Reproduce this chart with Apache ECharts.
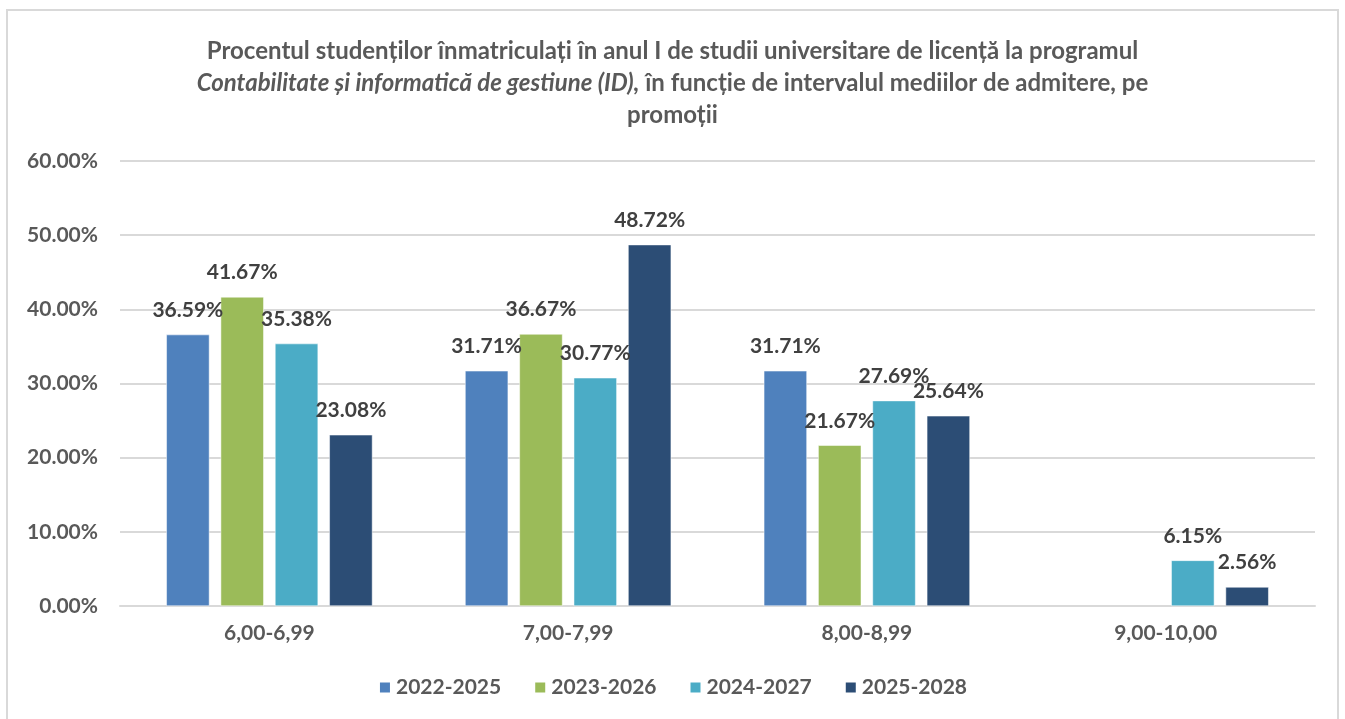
<!DOCTYPE html>
<html>
<head>
<meta charset="utf-8">
<script src="https://cdn.jsdelivr.net/npm/echarts@6/dist/echarts.min.js"></script>
<style>
  html, body { margin: 0; padding: 0; background: #fff; }
  #main { width: 1345px; height: 719px; }
</style>
</head>
<body>
<div id="main"></div>
<script>
var categories = ['6,00-6,99', '7,00-7,99', '8,00-8,99', '9,00-10,00'];
var seriesNames = ['2022-2025', '2023-2026', '2024-2027', '2025-2028'];
var s2022 = [36.59, 31.71, 31.71, null];
var s2023 = [41.67, 36.67, 21.67, null];
var s2024 = [35.38, 30.77, 27.69, 6.15];
var s2025 = [23.08, 48.72, 25.64, 2.56];
var yTicks = [0, 10, 20, 30, 40, 50, 60];
var colors = ['#4F81BD', '#9BBB59', '#4BACC6', '#2C4D75'];

var fontFam = 'Lato, "Open Sans", sans-serif';

function setChart(){
    var chartDom = document.getElementById('main');
    var myChart = echarts.init(chartDom);
    var values = [s2022, s2023, s2024, s2025];
    var series = seriesNames.map(function(name, i){
        return {
            name: name,
            type: 'bar',
            data: values[i],
            barGap: '26%',
            barCategoryGap: '31%',
            itemStyle: {color: colors[i], borderColor: '#fff', borderWidth: 0.5},
            label: {
                show: true,
                position: 'top',
                distance: 14,
                formatter: function(p){ return p.value == null ? '' : p.value.toFixed(2) + '%'; },
                color: '#404040',
                fontFamily: fontFam,
                fontWeight: 'bold',
                fontSize: 21
            }
        };
    });
    var titleStyle = {color: '#595959', fontFamily: fontFam, fontWeight: 'bold', fontSize: 24};
    var option = {
        animation: false,
        color: colors,
        title: [
            {
                text: 'Procentul studenților înmatriculați în anul I de studii universitare de licență la programul',
                left: 'center', top: 34,
                textStyle: titleStyle
            },
            {
                text: '{i|Contabilitate și informatică de gestiune (ID),} în funcție de intervalul mediilor de admitere, pe',
                left: 'center', top: 66,
                textStyle: {
                    color: '#595959', fontFamily: fontFam, fontWeight: 'bold', fontSize: 24,
                    rich: {i: {color: '#595959', fontFamily: fontFam, fontWeight: 'bold', fontStyle: 'italic', fontSize: 24}}
                }
            },
            {
                text: 'promoții',
                left: 'center', top: 98,
                textStyle: titleStyle
            }
        ],
        graphic: [{
            type: 'rect', silent: true,
            shape: {x: 7, y: 10, width: 1331, height: 730},
            style: {fill: 'none', stroke: '#d9d9d9', lineWidth: 2}
        }],
        legend: {
            data: seriesNames,
            bottom: 16,
            left: 'center',
            itemWidth: 12, itemHeight: 12, itemGap: 32,
            icon: 'rect',
            textStyle: {color: '#595959', fontFamily: fontFam, fontWeight: 'bold', fontSize: 21}
        },
        grid: {left: 120, right: 30, top: 161, bottom: 113, containLabel: false},
        xAxis: {
            type: 'category',
            data: categories,
            axisLine: {lineStyle: {color: '#d9d9d9', width: 2}},
            axisTick: {show: false},
            axisLabel: {color: '#595959', fontFamily: fontFam, fontWeight: 'bold', fontSize: 21, margin: 17}
        },
        yAxis: {
            type: 'value',
            min: yTicks[0], max: yTicks[yTicks.length - 1], interval: 10,
            axisLine: {show: false},
            axisTick: {show: false},
            splitLine: {lineStyle: {color: '#d9d9d9', width: 2}},
            axisLabel: {
                color: '#595959', fontFamily: fontFam, fontWeight: 'bold', fontSize: 21, margin: 22,
                formatter: function(v){ return v.toFixed(2) + '%'; }
            }
        },
        series: series
    };
    option && myChart.setOption(option);
}
setChart();
</script>
</body>
</html>
